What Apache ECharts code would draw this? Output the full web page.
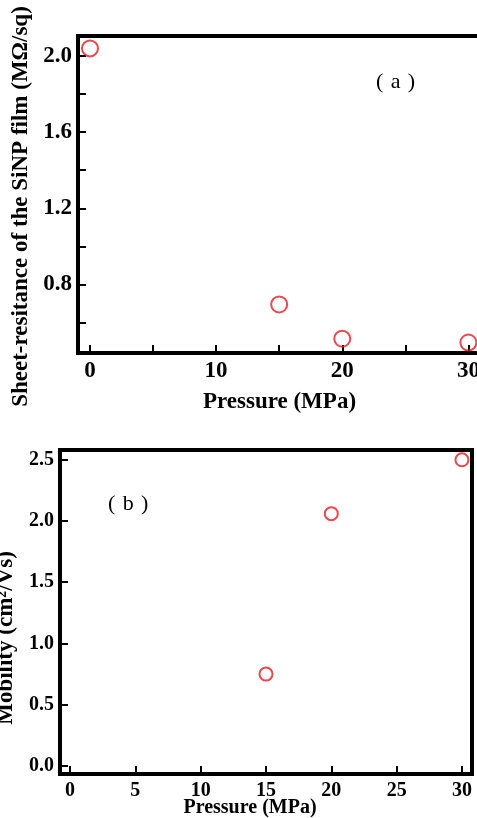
<!DOCTYPE html>
<html>
<head>
<meta charset="UTF-8">
<title>SiNP film vs pressure</title>
<script src="https://cdn.jsdelivr.net/npm/echarts@6/dist/echarts.min.js"></script>
<style>
  html, body { margin: 0; padding: 0; background: #fff; }
  #chart { width: 477px; height: 818px; }
</style>
</head>
<body>
<div id="chart"></div>
<script>
    // (a) sheet resistance
    let pressureA = [0, 15, 20, 30];
    let resistance = [2.04, 0.695, 0.515, 0.495];
    let ticksAX = [0, 5, 10, 15, 20, 25, 30];
    let labelsAX = [0, 10, 20, 30];
    let ticksAY = [0.6, 0.8, 1.0, 1.2, 1.4, 1.6, 1.8, 2.0];
    let labelsAY = [0.8, 1.2, 1.6, 2.0];

    // (b) mobility
    let pressureB = [15, 20, 30];
    let mobility = [0.75, 2.06, 2.5];
    let ticksBX = [0, 5, 10, 15, 20, 25, 30];
    let ticksBY = [0, 0.5, 1.0, 1.5, 2.0, 2.5];

    let font = '"Liberation Serif", "Times New Roman", serif';
    let red = '#e21b23';

    let chart = echarts.init(document.getElementById('chart'));

    function xAx(gridIndex, min, max, ticks, labels, size, margin, gap, nameSize, namePad) {
        return {
            gridIndex, type: 'value', min, max,
            name: 'Pressure (MPa)', nameLocation: 'middle', nameGap: gap, nameMoveOverlap: false,
            nameTextStyle: { fontFamily: font, fontWeight: 'bold', fontSize: nameSize, color: '#000', padding: namePad },
            axisLine: { onZero: false, lineStyle: { color: '#000', width: 4 } },
            axisTick: { inside: true, length: 8, lineStyle: { color: '#000', width: 2 }, customValues: ticks },
            axisLabel: { margin, fontFamily: font, fontWeight: 'bold', fontSize: size, color: '#000', customValues: labels },
            splitLine: { show: false }
        };
    }

    function yAx(gridIndex, min, max, ticks, labels, size, name, gap, nameSize, namePad) {
        return {
            gridIndex, type: 'value', min, max,
            name, nameLocation: 'middle', nameGap: gap, nameMoveOverlap: false,
            nameTextStyle: { fontFamily: font, fontWeight: 'bold', fontSize: nameSize, color: '#000', padding: namePad },
            axisLine: { onZero: false, lineStyle: { color: '#000', width: 4 } },
            axisTick: { inside: true, length: 8, lineStyle: { color: '#000', width: 2 }, customValues: ticks },
            axisLabel: { margin: 6, fontFamily: font, fontWeight: 'bold', fontSize: size, color: '#000', customValues: labels,
                formatter: v => v.toFixed(1) },
            splitLine: { show: false }
        };
    }

    let option = {
        backgroundColor: '#fff',
        animation: false,
        grid: [
            { left: 78, top: 36, width: 403, height: 317, show: true, borderColor: '#000', borderWidth: 4,
              outerBoundsMode: 'none', containLabel: false },
            { left: 60, top: 450, width: 412, height: 324, show: true, borderColor: '#000', borderWidth: 4,
              outerBoundsMode: 'none', containLabel: false }
        ],
        xAxis: [
            xAx(0, -0.95, 31, ticksAX, labelsAX, 23, 7, 38, 23, 0),
            xAx(1, -0.77, 30.77, ticksBX, ticksBX, 20, 7, 24, 20, [0, 32, 0, 0])
        ],
        yAxis: [
            yAx(0, 0.44, 2.105, ticksAY, labelsAY, 23, 'Sheet-resitance of the SiNP film (MΩ/sq)', 45, 23, [0, 24, 0, 0]),
            yAx(1, -0.066, 2.58, ticksBY, ticksBY, 20, 'Mobility (cm²/Vs)', 42, 23, [0, 52, 0, 0])
        ],
        graphic: [
            { type: 'text', left: 376, top: 71, style: { text: '(\u2004a\u2004)', font: '22px ' + font, fill: '#000' } },
            { type: 'text', left: 108, top: 493, style: { text: '(\u2004b\u2004)', font: '22px ' + font, fill: '#000' } }
        ],
        series: [
            {
                type: 'scatter', xAxisIndex: 0, yAxisIndex: 0,
                data: pressureA.map((p, i) => [p, resistance[i]]),
                symbol: 'circle', symbolSize: 16,
                itemStyle: { color: 'rgba(0,0,0,0)', borderColor: red, borderWidth: 2 }
            },
            {
                type: 'scatter', xAxisIndex: 1, yAxisIndex: 1,
                data: pressureB.map((p, i) => [p, mobility[i]]),
                symbol: 'circle', symbolSize: 13,
                itemStyle: { color: 'rgba(0,0,0,0)', borderColor: red, borderWidth: 2 }
            }
        ]
    };

    chart.setOption(option);
</script>
</body>
</html>
